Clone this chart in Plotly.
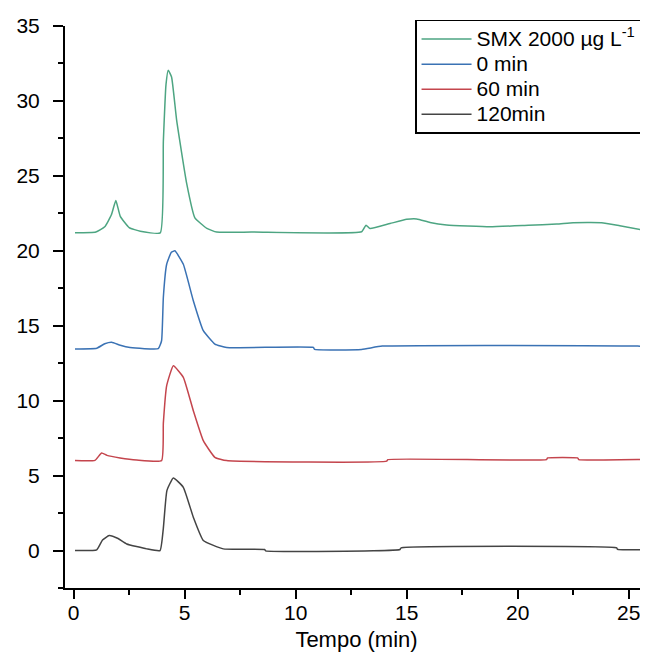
import plotly.graph_objects as go

# chromatogram points (time in min, signal)
smx_t = [0.06, 1.0, 1.4, 1.7, 1.9, 2.1, 2.5, 3.0, 3.9, 4.04, 4.16, 4.26, 4.41, 4.64, 5.09, 5.46,
         6.0, 6.44, 8.0, 12.97, 13.17, 13.35, 14.25, 15.0, 15.45, 16.05, 16.8, 18.75, 20.48,
         21.76, 22.5, 23.78, 24.6, 25.87]
smx_y = [21.2, 21.25, 21.6, 22.4, 23.35, 22.3, 21.55, 21.3, 21.2, 27.3, 31.1, 32.05, 31.6, 28.7, 24.5, 22.2,
         21.5, 21.25, 21.25, 21.27, 21.71, 21.49, 21.82, 22.1, 22.13, 21.89, 21.72, 21.6, 21.7,
         21.78, 21.87, 21.87, 21.67, 21.33]

t0_t = [0.06, 1.04, 1.4, 1.71, 2.1, 2.54, 3.81, 3.96, 4.04, 4.19, 4.4, 4.56, 4.94, 5.39, 5.84,
        6.36, 6.89, 10.8, 10.85, 12.97, 13.9, 25.4, 25.87]
t0_y = [13.45, 13.5, 13.8, 13.9, 13.7, 13.55, 13.47, 14.0, 16.9, 19.1, 19.9, 20.0, 19.1, 16.67, 14.67,
        13.78, 13.55, 13.55, 13.42, 13.42, 13.64, 13.64, 13.55]

t60_t = [0.06, 0.96, 1.26, 1.5, 2.09, 2.84, 3.96, 4.04, 4.19, 4.49, 4.94, 5.39, 5.84, 6.36, 6.89,
         14.1, 14.15, 21.3, 21.35, 22.7, 22.75, 25.5, 25.87]
t60_y = [6.0, 6.02, 6.51, 6.35, 6.18, 6.04, 6.0, 8.5, 11.0, 12.33, 11.56, 9.33, 7.33, 6.22, 6.0,
         5.96, 6.07, 6.07, 6.18, 6.18, 6.07, 6.07, 6.0]

t120_t = [0.06, 1.04, 1.3, 1.6, 2.0, 2.39, 3.29, 3.89, 4.04, 4.2, 4.49, 4.94, 5.39, 5.84, 6.74,
          8.6, 8.65, 13.5, 14.7, 14.75, 24.46, 24.5, 25.87]
t120_y = [0.0, 0.05, 0.7, 1.0, 0.8, 0.44, 0.11, 0.0, 1.5, 4.0, 4.84, 4.22, 2.22, 0.67, 0.11,
          0.07, -0.02, -0.02, 0.07, 0.18, 0.18, 0.07, 0.07]

series = [
    ("SMX 2000 µg L<sup>-1</sup>\u00a0\u00a0\u00a0", smx_t, smx_y, "#4da582"),
    ("0 min", t0_t, t0_y, "#3a72b4"),
    ("60 min", t60_t, t60_y, "#c4454d"),
    ("120min", t120_t, t120_y, "#444444"),
]

fig = go.Figure()
for name, t, y, c in series:
    fig.add_trace(go.Scatter(x=t, y=y, mode="lines",
                             name="<span style='font-size:21px'>%s</span>" % name,
                             line=dict(color=c, width=1.5, shape="spline", smoothing=0.4)))

axis_font = dict(family="Arial, Liberation Sans", size=21, color="black")

fig.update_xaxes(
    range=[-0.39, 25.87],
    tickvals=[0, 5, 10, 15, 20, 25],
    ticks="outside", ticklen=9, tickwidth=2, tickcolor="black",
    minor=dict(ticks="outside", ticklen=5, tickwidth=2, tickcolor="black", dtick=2.5, tick0=0),
    showline=True, linewidth=2, linecolor="black",
    showgrid=False, zeroline=False,
    tickfont=axis_font, ticklabelstandoff=-4,
    title=dict(text="Tempo (min)", font=dict(family="Arial, Liberation Sans", size=22, color="black"),
               standoff=8),
)
fig.update_yaxes(
    range=[-2.5, 35],
    tickvals=[0, 5, 10, 15, 20, 25, 30, 35],
    ticks="outside", ticklen=10, tickwidth=2, tickcolor="black",
    minor=dict(ticks="outside", ticklen=5, tickwidth=2, tickcolor="black", dtick=2.5, tick0=0),
    showline=True, linewidth=2, linecolor="black",
    showgrid=False, zeroline=False,
    tickfont=axis_font, ticklabelstandoff=9,
)
# page body has an 8px margin, so the figure is 8px smaller than the window
fig.update_layout(
    width=640, height=651,
    margin=dict(l=57, r=0, t=18, b=71, autoexpand=False),
    paper_bgcolor="white", plot_bgcolor="white",
    font=dict(family="Arial, Liberation Sans", color="black"),
    legend=dict(
        xref="container", yref="container",
        x=0.636, y=0.9816, xanchor="left", yanchor="top",
        bgcolor="white", bordercolor="black", borderwidth=1.5,
        font=dict(family="Arial, Liberation Sans", size=17, color="black"),
        itemwidth=50, tracegroupgap=0,
    ),
)

fig.write_html("out.html")
